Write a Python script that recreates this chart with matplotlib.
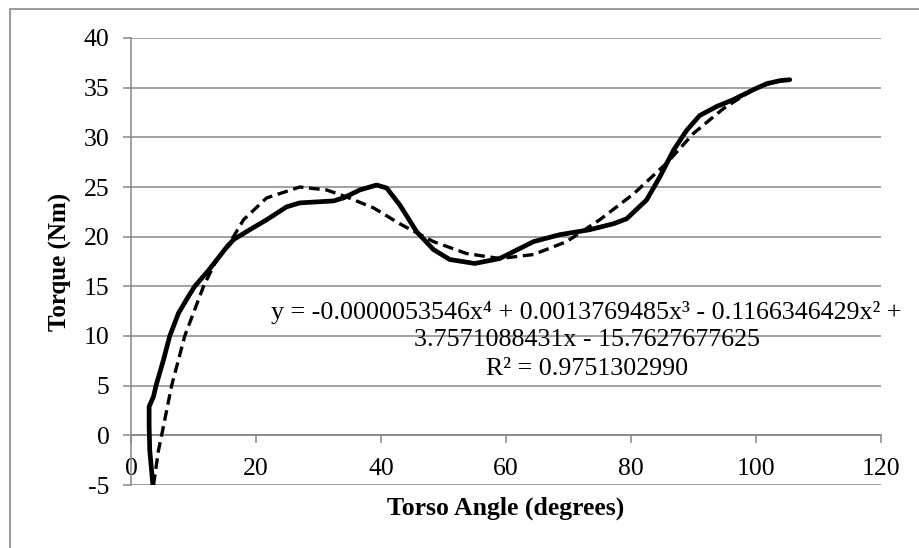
import numpy as np
import matplotlib
matplotlib.use("Agg")
import matplotlib.pyplot as plt
from matplotlib.patches import Rectangle

plt.rcParams["font.family"] = ["Liberation Serif", "DejaVu Serif"]
plt.rcParams["axes.unicode_minus"] = False

angle = [3.5, 3.0, 2.9, 2.9, 3.6, 4.0, 5.2, 6.2, 7.6, 9.2, 10.2, 12.4, 15.0,
         16.4, 19.0, 21.7, 24.9, 27.0, 32.4, 34.0, 36.6, 39.3, 40.9, 43.0,
         45.7, 48.4, 51.0, 55.0, 59.0, 64.4, 68.6, 73.4, 77.2, 79.3, 82.5,
         84.6, 86.8, 88.9, 91.0, 93.7, 96.4, 99.6, 101.7, 103.8, 105.4]
torque = [-5.0, -1.5, 1.0, 2.9, 3.9, 5.0, 7.6, 10.0, 12.3, 14.0, 15.0, 16.6,
          18.7, 19.7, 20.7, 21.7, 23.0, 23.4, 23.6, 23.9, 24.7, 25.2, 24.9,
          23.2, 20.5, 18.7, 17.7, 17.3, 17.8, 19.5, 20.2, 20.7, 21.3, 21.8,
          23.7, 26.0, 28.7, 30.7, 32.2, 33.1, 33.8, 34.8, 35.4, 35.7, 35.8]

# Polynomial trendline (dashed)
trend_angle = [3.6, 4.4, 4.9, 6.5, 8.6, 11.6, 13.4, 16.4, 18.0, 21.7, 27.0,
               31.3, 34.5, 38.8, 43.0, 48.4, 53.7, 59.0, 64.4, 69.7, 75.0,
               80.4, 85.7, 90.0, 94.8, 100.0, 105.4]
trend_torque = [-5.0, -1.5, 0.0, 5.0, 10.0, 15.0, 17.3, 20.0, 21.7, 23.9,
                25.0, 24.7, 24.0, 22.9, 21.3, 19.5, 18.3, 17.8, 18.2, 19.5,
                21.7, 24.3, 27.4, 30.4, 32.9, 35.0, 36.0]

y_ticks = list(range(-5, 41, 5))
x_ticks = list(range(0, 121, 20))

eq_lines = ["y = -0.0000053546x\u2074 + 0.0013769485x\u00b3 - 0.1166346429x\u00b2 +",
            "3.7571088431x - 15.7627677625",
            "R\u00b2 = 0.9751302990"]
eq_y = [12.4, 9.55, 6.7]

grey = "#878787"

fig = plt.figure(figsize=(9.19, 5.48), dpi=100)
fig.patches.append(Rectangle((10 / 919, -0.2), 1.2, 1.2 - 9 / 548,
                             transform=fig.transFigure, fill=False,
                             edgecolor=grey, linewidth=1.2))
ax = fig.add_axes([131 / 919, 63 / 548, 750 / 919, 447 / 548])

for yv in y_ticks:
    ax.axhline(yv, color=grey, linewidth=1.1, zorder=1)

ax.plot(angle, torque, color="black", linewidth=3.4,
        solid_capstyle="round", solid_joinstyle="round", zorder=3)
ax.plot(trend_angle, trend_torque, color="black", linewidth=2.4,
        dashes=(3.2, 1.7), zorder=4)

ax.set_xlim(0, 120)
ax.set_ylim(-5, 40)
ax.set_xticks(x_ticks)
ax.set_yticks(y_ticks)

for s in ["top", "right"]:
    ax.spines[s].set_visible(False)
ax.spines["bottom"].set_position(("data", 0))
ax.spines["bottom"].set_color(grey)
ax.spines["left"].set_color(grey)
ax.spines["bottom"].set_linewidth(1.1)
ax.spines["left"].set_linewidth(1.1)

ax.tick_params(axis="x", direction="out", length=5.5, width=1.1, color=grey,
               pad=11, labelsize=18.5)
ax.tick_params(axis="y", direction="out", length=5.5, width=1.1, color=grey,
               pad=10, labelsize=18.5)

ax.set_xlabel("Torso Angle (degrees)", fontsize=18.5, fontweight="bold")
ax.set_ylabel("Torque (Nm)", fontsize=18, fontweight="bold")
ax.xaxis.set_label_coords(0.5, -0.025)
ax.yaxis.set_label_coords(-0.078, 0.5)

for line, yv in zip(eq_lines, eq_y):
    ax.text(72.9, yv, line, fontsize=18.7, ha="center", va="center", zorder=5)

fig.savefig("out.png", dpi=100)
